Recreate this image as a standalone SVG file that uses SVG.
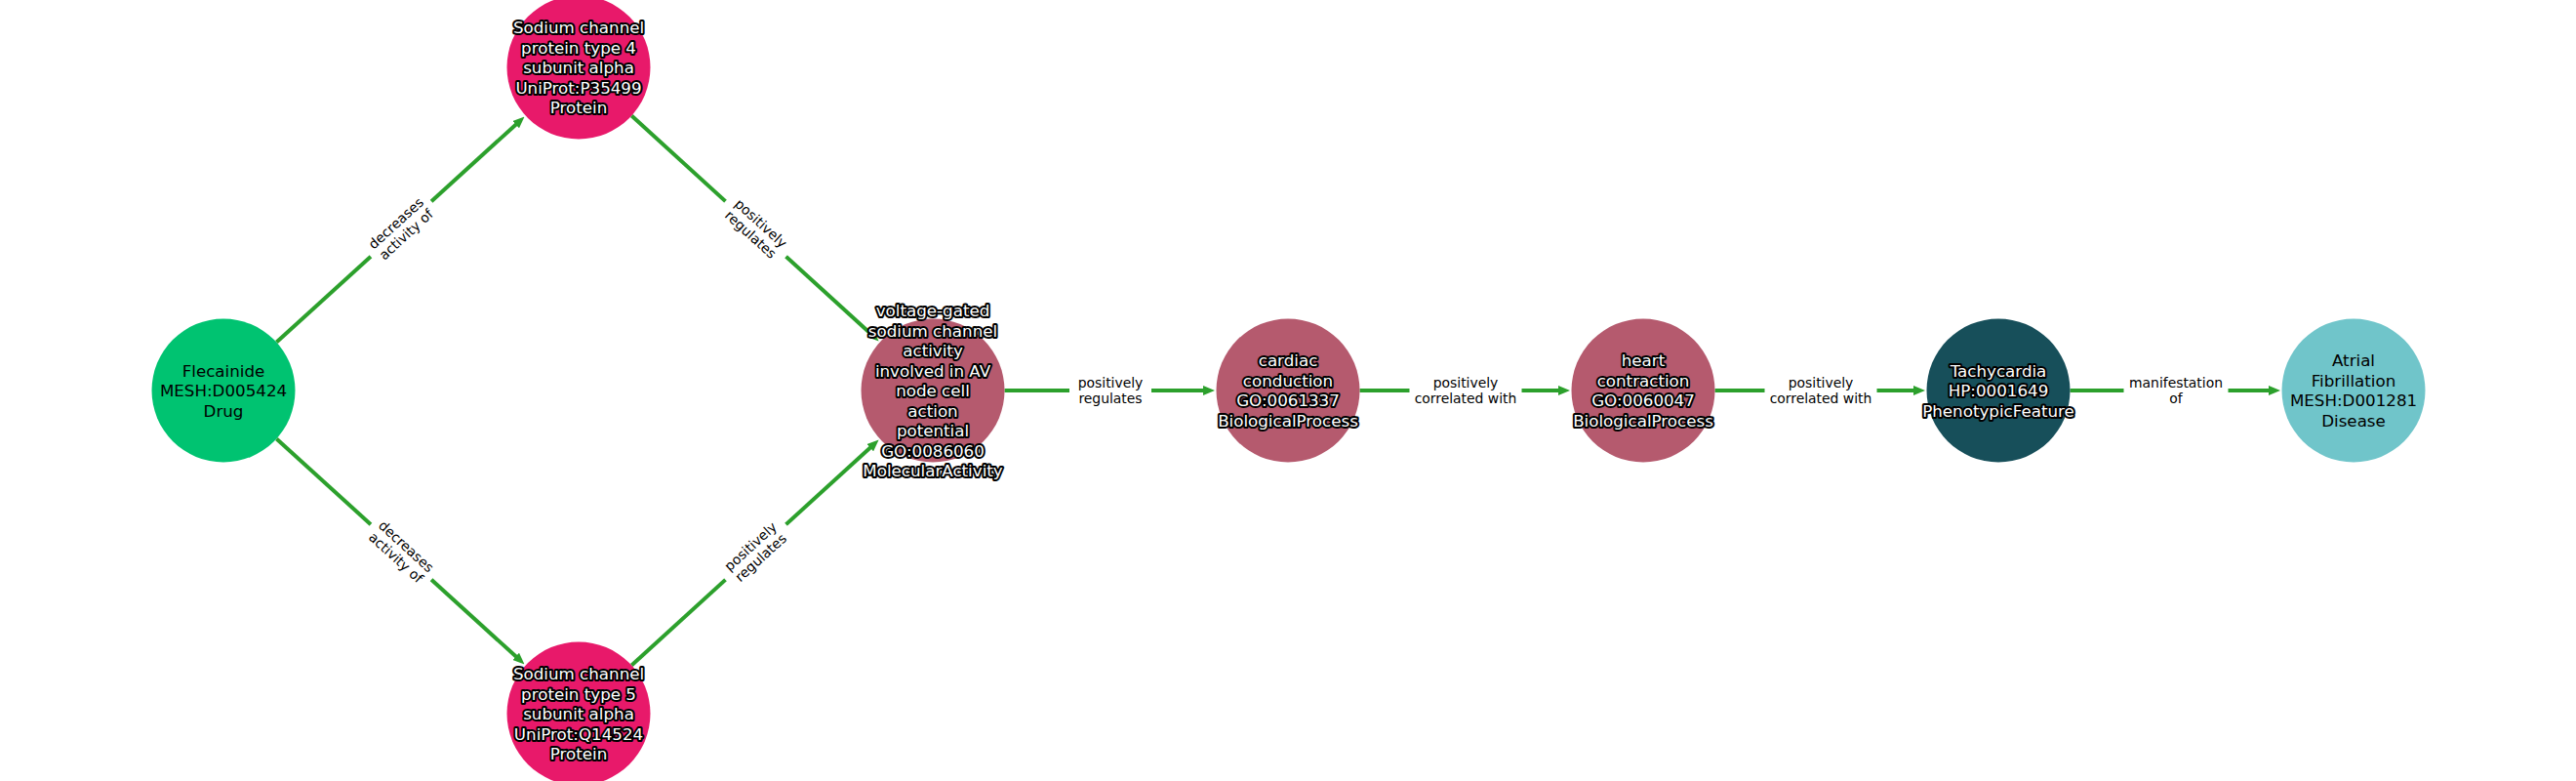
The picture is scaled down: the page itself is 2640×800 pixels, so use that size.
<svg xmlns="http://www.w3.org/2000/svg" width="2640" height="800" viewBox="0 0 2640 800">
<style>
.edge{stroke:#2ca02c;stroke-width:4;fill:none;stroke-linecap:butt;marker-end:url(#arr)}
.elbl{font-family:"DejaVu Sans","Liberation Sans",sans-serif;font-size:13.9px;fill:#000;text-anchor:middle}
.lbg{fill:#fff}
.ntxt{font-family:"DejaVu Sans","Liberation Sans",sans-serif;font-size:16.7px;text-anchor:middle}
.dark{fill:#000}
.halo{fill:#fff;stroke:#000;stroke-width:4;stroke-linejoin:round;paint-order:stroke}
</style>
<defs>
<marker id="arr" markerUnits="userSpaceOnUse" markerWidth="12" markerHeight="10" viewBox="0 0 12 10" refX="4" refY="5" orient="auto">
<path d="M0,0 L12,5 L0,10 z" fill="#2ca02c"/>
</marker>
</defs>
<rect width="2640" height="800" fill="#fff"/>
<g id="connectors">
<line class="edge" x1="283.4" y1="350.6" x2="531.6" y2="124.9"/>
<line class="edge" x1="283.4" y1="449.4" x2="531.6" y2="675.1"/>
<line class="edge" x1="647.3" y1="118.5" x2="894.7" y2="344.1"/>
<line class="edge" x1="647.3" y1="681.5" x2="894.7" y2="455.9"/>
<line class="edge" x1="1029.5" y1="400" x2="1237" y2="400"/>
<line class="edge" x1="1393.5" y1="400" x2="1601" y2="400"/>
<line class="edge" x1="1757.5" y1="400" x2="1965" y2="400"/>
<line class="edge" x1="2121.5" y1="400" x2="2329" y2="400"/>
<g transform="translate(411,234.5) rotate(-42.28)"><rect class="lbg" x="-42" y="-21" width="84" height="42"/><text class="elbl"><tspan x="0" y="-3">decreases</tspan><tspan x="0" y="12.5">activity of</tspan></text></g>
<g transform="translate(411,565.5) rotate(42.28)"><rect class="lbg" x="-42" y="-21" width="84" height="42"/><text class="elbl"><tspan x="0" y="-3">decreases</tspan><tspan x="0" y="12.5">activity of</tspan></text></g>
<g transform="translate(774.5,234.5) rotate(42.28)"><rect class="lbg" x="-42" y="-21" width="84" height="42"/><text class="elbl"><tspan x="0" y="-3">positively</tspan><tspan x="0" y="12.5">regulates</tspan></text></g>
<g transform="translate(774.5,565.5) rotate(-42.28)"><rect class="lbg" x="-42" y="-21" width="84" height="42"/><text class="elbl"><tspan x="0" y="-3">positively</tspan><tspan x="0" y="12.5">regulates</tspan></text></g>
<g transform="translate(1138,400)"><rect class="lbg" x="-42" y="-21" width="84" height="42"/><text class="elbl"><tspan x="0" y="-3">positively</tspan><tspan x="0" y="12.5">regulates</tspan></text></g>
<g transform="translate(1502,400)"><rect class="lbg" x="-57.5" y="-21" width="115" height="42"/><text class="elbl"><tspan x="0" y="-3">positively</tspan><tspan x="0" y="12.5">correlated with</tspan></text></g>
<g transform="translate(1866,400)"><rect class="lbg" x="-57.5" y="-21" width="115" height="42"/><text class="elbl"><tspan x="0" y="-3">positively</tspan><tspan x="0" y="12.5">correlated with</tspan></text></g>
<g transform="translate(2230,400)"><rect class="lbg" x="-53.5" y="-21" width="107" height="42"/><text class="elbl"><tspan x="0" y="-3">manifestation</tspan><tspan x="0" y="12.5">of</tspan></text></g>
</g>
<g id="n_flecainide" transform="translate(229,400)">
<circle r="73.5" fill="#00c371"/>
<text class="ntxt dark"><tspan x="0" y="-14.5">Flecainide</tspan><tspan x="0" y="6">MESH:D005424</tspan><tspan x="0" y="26.5">Drug</tspan></text>
</g>
<g id="n_scn4a" transform="translate(593,69)">
<circle r="73.5" fill="#e8196a"/>
<text class="ntxt halo"><tspan x="0" y="-35">Sodium channel</tspan><tspan x="0" y="-14.5">protein type 4</tspan><tspan x="0" y="6">subunit alpha</tspan><tspan x="0" y="26.5">UniProt:P35499</tspan><tspan x="0" y="47">Protein</tspan></text>
</g>
<g id="n_scn5a" transform="translate(593,731)">
<circle r="73.5" fill="#e8196a"/>
<text class="ntxt halo"><tspan x="0" y="-35">Sodium channel</tspan><tspan x="0" y="-14.5">protein type 5</tspan><tspan x="0" y="6">subunit alpha</tspan><tspan x="0" y="26.5">UniProt:Q14524</tspan><tspan x="0" y="47">Protein</tspan></text>
</g>
<g id="n_vgsc" transform="translate(956,400)">
<circle r="73.5" fill="#b55a6e"/>
<text class="ntxt halo"><tspan x="0" y="-76">voltage-gated</tspan><tspan x="0" y="-55.5">sodium channel</tspan><tspan x="0" y="-35">activity</tspan><tspan x="0" y="-14.5">involved in AV</tspan><tspan x="0" y="6">node cell</tspan><tspan x="0" y="26.5">action</tspan><tspan x="0" y="47">potential</tspan><tspan x="0" y="67.5">GO:0086060</tspan><tspan x="0" y="88">MolecularActivity</tspan></text>
</g>
<g id="n_cardiac" transform="translate(1320,400)">
<circle r="73.5" fill="#b55a6e"/>
<text class="ntxt halo"><tspan x="0" y="-24.8">cardiac</tspan><tspan x="0" y="-4.3">conduction</tspan><tspan x="0" y="16.2">GO:0061337</tspan><tspan x="0" y="36.7">BiologicalProcess</tspan></text>
</g>
<g id="n_heart" transform="translate(1684,400)">
<circle r="73.5" fill="#b55a6e"/>
<text class="ntxt halo"><tspan x="0" y="-24.8">heart</tspan><tspan x="0" y="-4.3">contraction</tspan><tspan x="0" y="16.2">GO:0060047</tspan><tspan x="0" y="36.7">BiologicalProcess</tspan></text>
</g>
<g id="n_tachy" transform="translate(2048,400)">
<circle r="73.5" fill="#174f5a"/>
<text class="ntxt halo"><tspan x="0" y="-14.5">Tachycardia</tspan><tspan x="0" y="6">HP:0001649</tspan><tspan x="0" y="26.5">PhenotypicFeature</tspan></text>
</g>
<g id="n_afib" transform="translate(2412,400)">
<circle r="73.5" fill="#70c5ca"/>
<text class="ntxt dark"><tspan x="0" y="-24.8">Atrial</tspan><tspan x="0" y="-4.3">Fibrillation</tspan><tspan x="0" y="16.2">MESH:D001281</tspan><tspan x="0" y="36.7">Disease</tspan></text>
</g>
</svg>
